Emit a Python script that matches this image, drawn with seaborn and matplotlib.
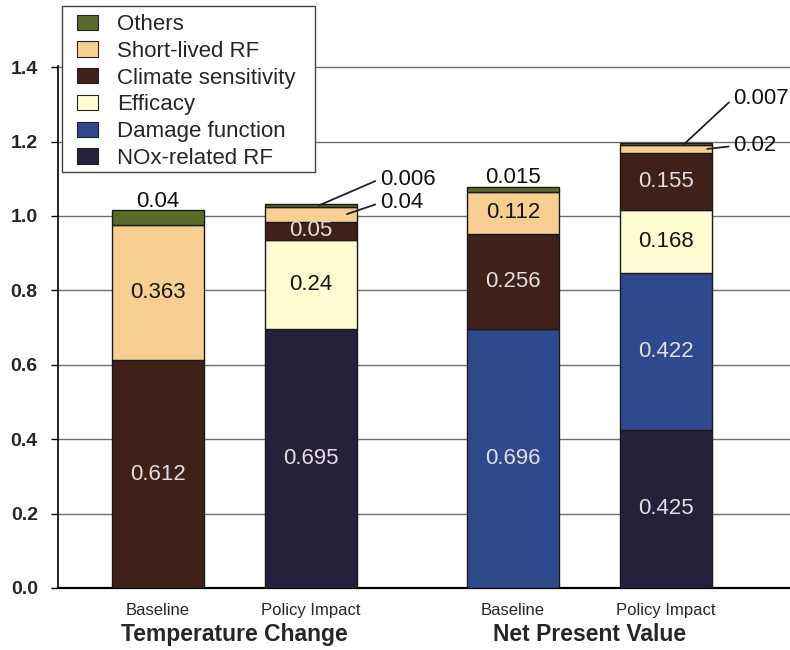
import numpy as np
import pandas as pd
import matplotlib
matplotlib.use("Agg")
import matplotlib.pyplot as plt
import seaborn as sns
from matplotlib.patches import Patch, Rectangle

# ---- data -------------------------------------------------------------
groups = ["Temperature Change", "Net Present Value"]
scenarios = ["Baseline", "Policy Impact", "Baseline", "Policy Impact"]
bar_pos = [0.0, 1.0, 2.32, 3.32]

# stacking order, bottom to top
components = ["NOx-related RF", "Damage function", "Efficacy",
              "Climate sensitivity", "Short-lived RF", "Others"]
nox_rf      = [0.0,   0.695, 0.0,   0.425]
damage      = [0.0,   0.0,   0.696, 0.422]
efficacy    = [0.0,   0.24,  0.0,   0.168]
climate     = [0.612, 0.05,  0.256, 0.155]
short_lived = [0.363, 0.04,  0.112, 0.02]
others      = [0.04,  0.006, 0.015, 0.007]

colors = ["#26213a", "#2e4a8c", "#fefcd2", "#40211a", "#f8cf92", "#5a6a2b"]
light_text = {"NOx-related RF", "Damage function", "Climate sensitivity"}

# ---- style ------------------------------------------------------------
sns.set_style("ticks")
plt.rcParams["font.family"] = ["Liberation Sans", "DejaVu Sans"]

W, H = 790, 650
fig = plt.figure(figsize=(W / 100, H / 100), dpi=100)
ax = fig.add_axes([58 / W, 62 / H, 1 - 58 / W, (588 - 66) / H])

series = [nox_rf, damage, efficacy, climate, short_lived, others]
bottom = np.zeros(len(bar_pos))
segments = []
for name, vals, col in zip(components, series, colors):
    vals = np.asarray(vals, dtype=float)
    df = pd.DataFrame({"pos": bar_pos, "value": vals})
    sns.barplot(data=df, x="pos", y="value", native_scale=True, width=0.6,
                color=col, saturation=1, bottom=bottom.copy(),
                edgecolor="#1a1a1a", linewidth=1.0, errorbar=None,
                ax=ax, zorder=3)
    for patch in ax.containers[-1]:
        if patch.get_height() == 0:
            patch.set_visible(False)
    for i, v in enumerate(vals):
        if v > 0:
            segments.append((i, name, v, bottom[i]))
    bottom += vals

# ---- value labels -----------------------------------------------------
# small top segments labelled with leader lines: (bar, component) -> text anchor
callouts = {
    (1, "Others"): (1.45, 1.099),
    (1, "Short-lived RF"): (1.45, 1.035),
    (3, "Others"): (3.76, 1.316),
    (3, "Short-lived RF"): (3.76, 1.188),
}
callout_hook = {
    (1, "Others"): 0.05,
    (1, "Short-lived RF"): 0.235,
    (3, "Others"): 0.12,
    (3, "Short-lived RF"): 0.27,
}

for i, name, v, b in segments:
    x = bar_pos[i]
    label = f"{v:g}"
    if (i, name) in callouts:
        tx, ty = callouts[(i, name)]
        ax.annotate(label, xy=(x + callout_hook[(i, name)], b + v / 2),
                    xytext=(tx, ty), ha="left", va="center", fontsize=16,
                    color="#111111", zorder=5,
                    arrowprops=dict(arrowstyle="-", color="#222222", lw=1.3,
                                    shrinkA=1, shrinkB=0, relpos=(0, 0.5)))
    elif name == "Others":
        ax.text(x, b + v - 0.004, label, ha="center", va="bottom",
                fontsize=16, color="#111111", zorder=5)
    else:
        ax.text(x, b + v / 2, label, ha="center", va="center", fontsize=16,
                color="#e4dde4" if name in light_text else "#151515",
                zorder=5)

# ---- axes -------------------------------------------------------------
ticks = np.arange(0, 1.41, 0.2)
ax.set_xlim(-0.654, 4.131)
ax.set_ylim(0, 1.403)
ax.set_yticks(ticks)
ax.set_yticklabels([f"{t:.1f}" for t in ticks], fontsize=14, fontweight="bold")
ax.tick_params(axis="y", length=5, width=1, pad=9.5, color="black")
ax.set_xticks(bar_pos)
ax.set_xticklabels(scenarios, fontsize=12)
ax.tick_params(axis="x", length=0, pad=11)
ax.set_xlabel("")
ax.set_ylabel("")
ax.yaxis.grid(True, color="#6e6e6e", lw=1)
ax.set_axisbelow(True)
sns.despine(ax=ax, top=True, right=True)
ax.spines["left"].set_color("black")
ax.spines["left"].set_linewidth(1.2)
ax.spines["bottom"].set_color("black")
ax.spines["bottom"].set_linewidth(1.6)

for g, (a, b) in zip(groups, [(0, 1), (2, 3)]):
    ax.text((bar_pos[a] + bar_pos[b]) / 2, -0.09, g,
            transform=ax.get_xaxis_transform(), ha="center", va="center",
            fontsize=16.5, fontweight="bold")

# ---- legend -----------------------------------------------------------
# white box behind the legend entries, covering the top of the grid
fig.patches.append(Rectangle((62 / W, 1 - 172 / H), (315 - 62) / W, (172 - 6) / H,
                             transform=fig.transFigure, facecolor="white",
                             edgecolor="#444444", lw=1.0, zorder=4))
handles = [Patch(facecolor=c, edgecolor="#222222", lw=0.8, label=n)
           for n, c in zip(components, colors)][::-1]
leg = fig.legend(handles=handles, loc="upper left",
                 bbox_to_anchor=(77 / W, 1 - 14 / H), borderaxespad=0,
                 fontsize=16, frameon=False, handlelength=0.95,
                 handleheight=0.68, handletextpad=0.86, labelspacing=0.26,
                 borderpad=0)
leg.set_zorder(5)

fig.savefig("out.png", dpi=100)
